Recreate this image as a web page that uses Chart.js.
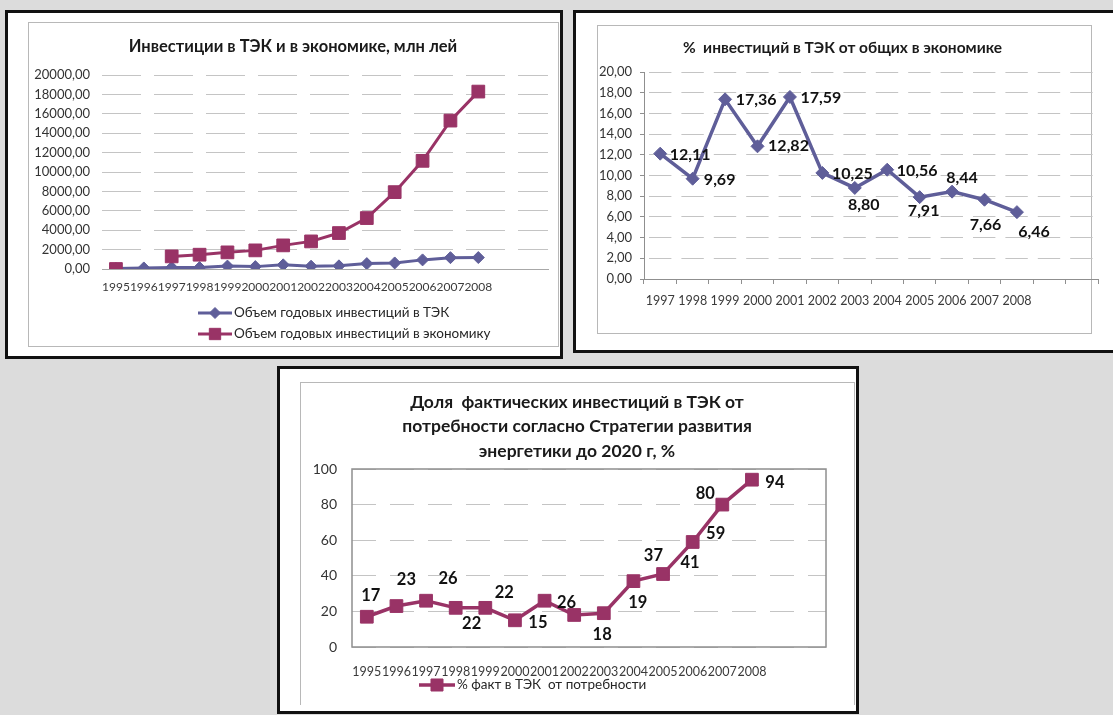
<!DOCTYPE html>
<html>
<head>
<meta charset="utf-8">
<script src="https://cdn.jsdelivr.net/npm/chart.js@4.4.1/dist/chart.umd.min.js"></script>
<style>
  html, body { margin: 0; padding: 0; background: #dcdcdc; }
  #page { position: relative; width: 1113px; height: 715px; overflow: hidden; background: #dcdcdc; }
  .panel { position: absolute; background: #fff; border: 3px solid #111; box-sizing: border-box; }
  .frame { position: absolute; border: 1px solid #b8b8b8; box-sizing: border-box; }
  canvas { position: absolute; }
</style>
</head>
<body>
<div id="page">
  <div class="panel" style="left:5px;top:10px;width:558px;height:349px"></div>
  <div class="frame" style="left:28px;top:22px;width:531px;height:325px"></div>

  <div class="panel" style="left:573px;top:10px;width:560px;height:343px"></div>
  <div class="frame" style="left:597px;top:25px;width:495px;height:309px"></div>

  <div class="panel" style="left:277px;top:366px;width:582px;height:348px"></div>
  <div class="frame" style="left:300px;top:382px;width:555px;height:323px;border-bottom:none"></div>

  <canvas id="invest" width="530" height="324" style="left:28px;top:22px"></canvas>
  <canvas id="share" width="520" height="307" style="left:587px;top:26px"></canvas>
  <canvas id="need" width="554" height="323" style="left:300px;top:382px"></canvas>
</div>

<script>
// ---- data ----
const years = ['1995', '1996', '1997', '1998', '1999', '2000', '2001',
               '2002', '2003', '2004', '2005', '2006', '2007', '2008'];
const spareSlots = ['', ''];

// annual investment, mln lei
const energyInvest  = [40, 110, 160, 145, 300, 245, 430, 290, 325, 555, 625, 940, 1170, 1180];
const economyInvest = [0, null, 1300, 1475, 1715, 1920, 2435, 2845, 3705, 5250, 7925, 11150, 15300, 18290];

// share of energy-sector investment in total investment, %
const shareYears = ['1997', '1998', '1999', '2000', '2001', '2002',
                    '2003', '2004', '2005', '2006', '2007', '2008'];
const sharePct = [12.11, 9.69, 17.36, 12.82, 17.59, 10.25, 8.80, 10.56, 7.91, 8.44, 7.66, 6.46];

// actual investment as % of the strategy requirement
const needPct = [17, 23, 26, 22, 22, 15, 26, 18, 19, 37, 41, 59, 80, 94];

const investTicks = [0, 2000, 4000, 6000, 8000, 10000, 12000, 14000, 16000, 18000, 20000];
const shareTicks  = [0, 2, 4, 6, 8, 10, 12, 14, 16, 18, 20];
const needTicks   = [0, 20, 40, 60, 80, 100];

// ---- styling ----
const FONT = "Lato, 'Noto Sans', 'DejaVu Sans', sans-serif";
const SLATE = '#5f5e99';
const PLUM = '#993366';
const GRID = '#c4c4c4';
const AXIS = '#8f8f8f';

Chart.defaults.font.family = FONT;
Chart.defaults.color = '#333';
Chart.defaults.animation = false;

const comma = (v, d) => v.toFixed(d).replace('.', ',');

// value labels next to points, shifted individually
function valueLabels(shifts, decimals, font) {
  return {
    id: 'valueLabels',
    afterDatasetsDraw(chart) {
      const ctx = chart.ctx;
      const meta = chart.getDatasetMeta(0);
      const vals = chart.data.datasets[0].data;
      ctx.save();
      ctx.font = font;
      ctx.fillStyle = '#111';
      ctx.textAlign = 'center';
      ctx.textBaseline = 'middle';
      meta.data.forEach((pt, i) => {
        if (vals[i] == null) return;
        const s = shifts[i] || [0, 0];
        ctx.fillText(comma(vals[i], decimals), pt.x + s[0], pt.y + s[1]);
      });
      ctx.restore();
    }
  };
}

// legend rows: line sample with marker, then the series name
function sampleLegend(x, y, rowGap, lineLen, font) {
  return {
    id: 'sampleLegend',
    afterDraw(chart) {
      const ctx = chart.ctx;
      ctx.save();
      chart.data.datasets.forEach((ds, i) => {
        const yy = y + i * rowGap;
        ctx.strokeStyle = ds.borderColor;
        ctx.lineWidth = ds.borderWidth;
        ctx.beginPath();
        ctx.moveTo(x, yy);
        ctx.lineTo(x + lineLen, yy);
        ctx.stroke();
        ctx.fillStyle = ds.backgroundColor;
        ctx.lineWidth = 1;
        Chart.helpers.drawPoint(ctx, { pointStyle: ds.pointStyle, radius: ds.legendRadius, borderWidth: 1, rotation: 0 }, x + lineLen / 2, yy);
        ctx.font = font;
        ctx.fillStyle = '#262626';
        ctx.textAlign = 'left';
        ctx.textBaseline = 'middle';
        ctx.fillText(ds.label, x + lineLen + 2, yy);
      });
      ctx.restore();
    }
  };
}

// solid frame around the plot area
const plotFrame = {
  id: 'plotFrame',
  beforeDatasetsDraw(chart) {
    const a = chart.chartArea, ctx = chart.ctx;
    ctx.save();
    ctx.strokeStyle = AXIS;
    ctx.lineWidth = 1.5;
    ctx.strokeRect(a.left, a.top, a.right - a.left, a.bottom - a.top);
    ctx.restore();
  }
};

const fixedTicks = list => scale => { scale.ticks = list.map(v => ({ value: v })); };

// empty right-hand gutter that keeps the title centred on the whole canvas
const rightGutter = w => ({
  type: 'linear', position: 'right', display: true,
  grid: { display: false, drawTicks: false },
  border: { display: false },
  ticks: { display: false },
  afterFit: s => { s.width = w; }
});

// ---- chart 1: investment volumes ----
new Chart(document.getElementById('invest'), {
  type: 'line',
  data: {
    labels: years.concat(spareSlots),
    datasets: [
      {
        label: 'Объем годовых инвестиций в ТЭК',
        data: energyInvest,
        borderColor: SLATE, backgroundColor: SLATE,
        borderWidth: 3, pointStyle: 'rectRot', pointRadius: 6, pointBorderWidth: 1,
        legendRadius: 5.5, order: 1, yAxisID: 'y'
      },
      {
        label: 'Объем годовых инвестиций в экономику',
        data: economyInvest,
        borderColor: PLUM, backgroundColor: PLUM,
        borderWidth: 3, pointStyle: 'rect', pointRadius: 9, pointBorderWidth: 1,
        legendRadius: 8, spanGaps: false, order: 0, yAxisID: 'y'
      }
    ]
  },
  options: {
    responsive: false, devicePixelRatio: 1,
    layout: { padding: { left: 0, right: 0, top: 0, bottom: 49 } },
    plugins: {
      title: {
        display: true, text: 'Инвестиции в ТЭК и в экономике, млн лей',
        font: { size: 16.5, weight: 'bold' }, color: '#1a1a1a',
        padding: { top: 15.1, bottom: 18.1 }
      },
      legend: { display: false }, tooltip: { enabled: false }
    },
    scales: {
      x: {
        offset: true,
        grid: { display: false, drawTicks: false },
        border: { display: true, color: '#a8a8a8', width: 1 },
        ticks: { autoSkip: false, maxRotation: 0, minRotation: 0, padding: 11, font: { size: 12 }, color: '#3a3a3a' },
        afterFit: s => { s.height = 28; }
      },
      y: {
        min: 0, max: 20000,
        afterBuildTicks: fixedTicks(investTicks),
        grid: { color: GRID, drawTicks: false },
        border: { display: false, dash: [39, 13] },
        ticks: { padding: 12, font: { size: 13 }, color: '#333', callback: v => comma(v, 2) },
        afterFit: s => { s.width = 74; }
      },
      gutter: rightGutter(8)
    }
  },
  plugins: [sampleLegend(170, 291, 21, 34, `13.5px ${FONT}`)]
});

// ---- chart 2: share of energy-sector investment ----
const shareShifts = [[30, 1], [27, 1], [31, 1], [31, 0], [31, 1], [30, 1],
                     [9, 17], [30, 1], [4, 14], [10, -14], [1, 25], [17, 20]];

new Chart(document.getElementById('share'), {
  type: 'line',
  data: {
    labels: shareYears.concat(spareSlots),
    datasets: [{
      label: '% инвестиций в ТЭК от общих в экономике',
      data: sharePct,
      borderColor: SLATE, backgroundColor: SLATE,
      borderWidth: 3.5, pointStyle: 'rectRot', pointRadius: 6.5, pointBorderWidth: 1
    }]
  },
  options: {
    responsive: false, devicePixelRatio: 1,
    layout: { padding: { left: 0, right: 9, top: 0, bottom: 14 } },
    plugins: {
      title: {
        display: true, text: '%  инвестиций в ТЭК от общих в экономике',
        font: { size: 15.5, weight: 'bold' }, color: '#1a1a1a',
        padding: { top: 12.7, bottom: 14.7 }
      },
      legend: { display: false }, tooltip: { enabled: false }
    },
    scales: {
      x: {
        offset: true,
        grid: { display: true, offset: true, drawOnChartArea: false, drawTicks: true, tickLength: 5, color: AXIS },
        border: { display: true, color: AXIS, width: 1 },
        ticks: { autoSkip: false, maxRotation: 0, minRotation: 0, padding: 9.5, font: { size: 12.5 }, color: '#3a3a3a' },
        afterFit: s => { s.height = 40; }
      },
      y: {
        min: 0, max: 20,
        afterBuildTicks: fixedTicks(shareTicks),
        grid: { color: GRID, drawTicks: true, tickLength: 4, tickColor: AXIS },
        border: { display: true, color: AXIS, width: 1, dash: [22.4, 10], dashOffset: -4 },
        ticks: { padding: 8, font: { size: 13 }, color: '#333', callback: v => comma(v, 2) },
        afterFit: s => { s.width = 57; }
      }
    }
  },
  plugins: [valueLabels(shareShifts, 2, `bold 16px ${FONT}`)]
});

// ---- chart 3: actual vs required investment ----
const needShifts = [[4, -21], [10, -26], [22, -22], [16, 16], [19, -15], [23, 2], [22, 2],
                    [28, 20], [34, -11], [20, -25], [27, -11], [23, -8], [-17, -11], [23, 3]];

new Chart(document.getElementById('need'), {
  type: 'line',
  data: {
    labels: years.concat(spareSlots),
    datasets: [{
      label: '% факт в ТЭК  от потребности',
      data: needPct,
      borderColor: PLUM, backgroundColor: PLUM,
      borderWidth: 3.5, pointStyle: 'rect', pointRadius: 9, pointBorderWidth: 1,
      legendRadius: 8.5, yAxisID: 'y'
    }]
  },
  options: {
    responsive: false, devicePixelRatio: 1,
    layout: { padding: { left: 0, right: 0, top: 0, bottom: 24 } },
    plugins: {
      title: {
        display: true,
        text: ['Доля  фактических инвестиций в ТЭК от',
               'потребности согласно Стратегии развития',
               'энергетики до 2020 г, %'],
        font: { size: 17.5, weight: 'bold', lineHeight: 1.4 }, color: '#1a1a1a',
        padding: { top: 7.75, bottom: 5.75 }
      },
      legend: { display: false }, tooltip: { enabled: false }
    },
    scales: {
      x: {
        offset: true,
        grid: { display: false, drawTicks: false },
        border: { display: false },
        ticks: { autoSkip: false, maxRotation: 0, minRotation: 0, padding: 17.5, font: { size: 12.5 }, color: '#3a3a3a' },
        afterFit: s => { s.height = 34; }
      },
      y: {
        min: 0, max: 100,
        afterBuildTicks: fixedTicks(needTicks),
        grid: { color: GRID, drawTicks: false },
        border: { display: false, dash: [24, 14] },
        ticks: { padding: 15, font: { size: 14 }, color: '#333' },
        afterFit: s => { s.width = 52; }
      },
      gutter: rightGutter(28)
    }
  },
  plugins: [plotFrame, valueLabels(needShifts, 0, `bold 16.5px ${FONT}`),
            sampleLegend(119, 303, 20, 36, `13.5px ${FONT}`)]
});
</script>
</body>
</html>
